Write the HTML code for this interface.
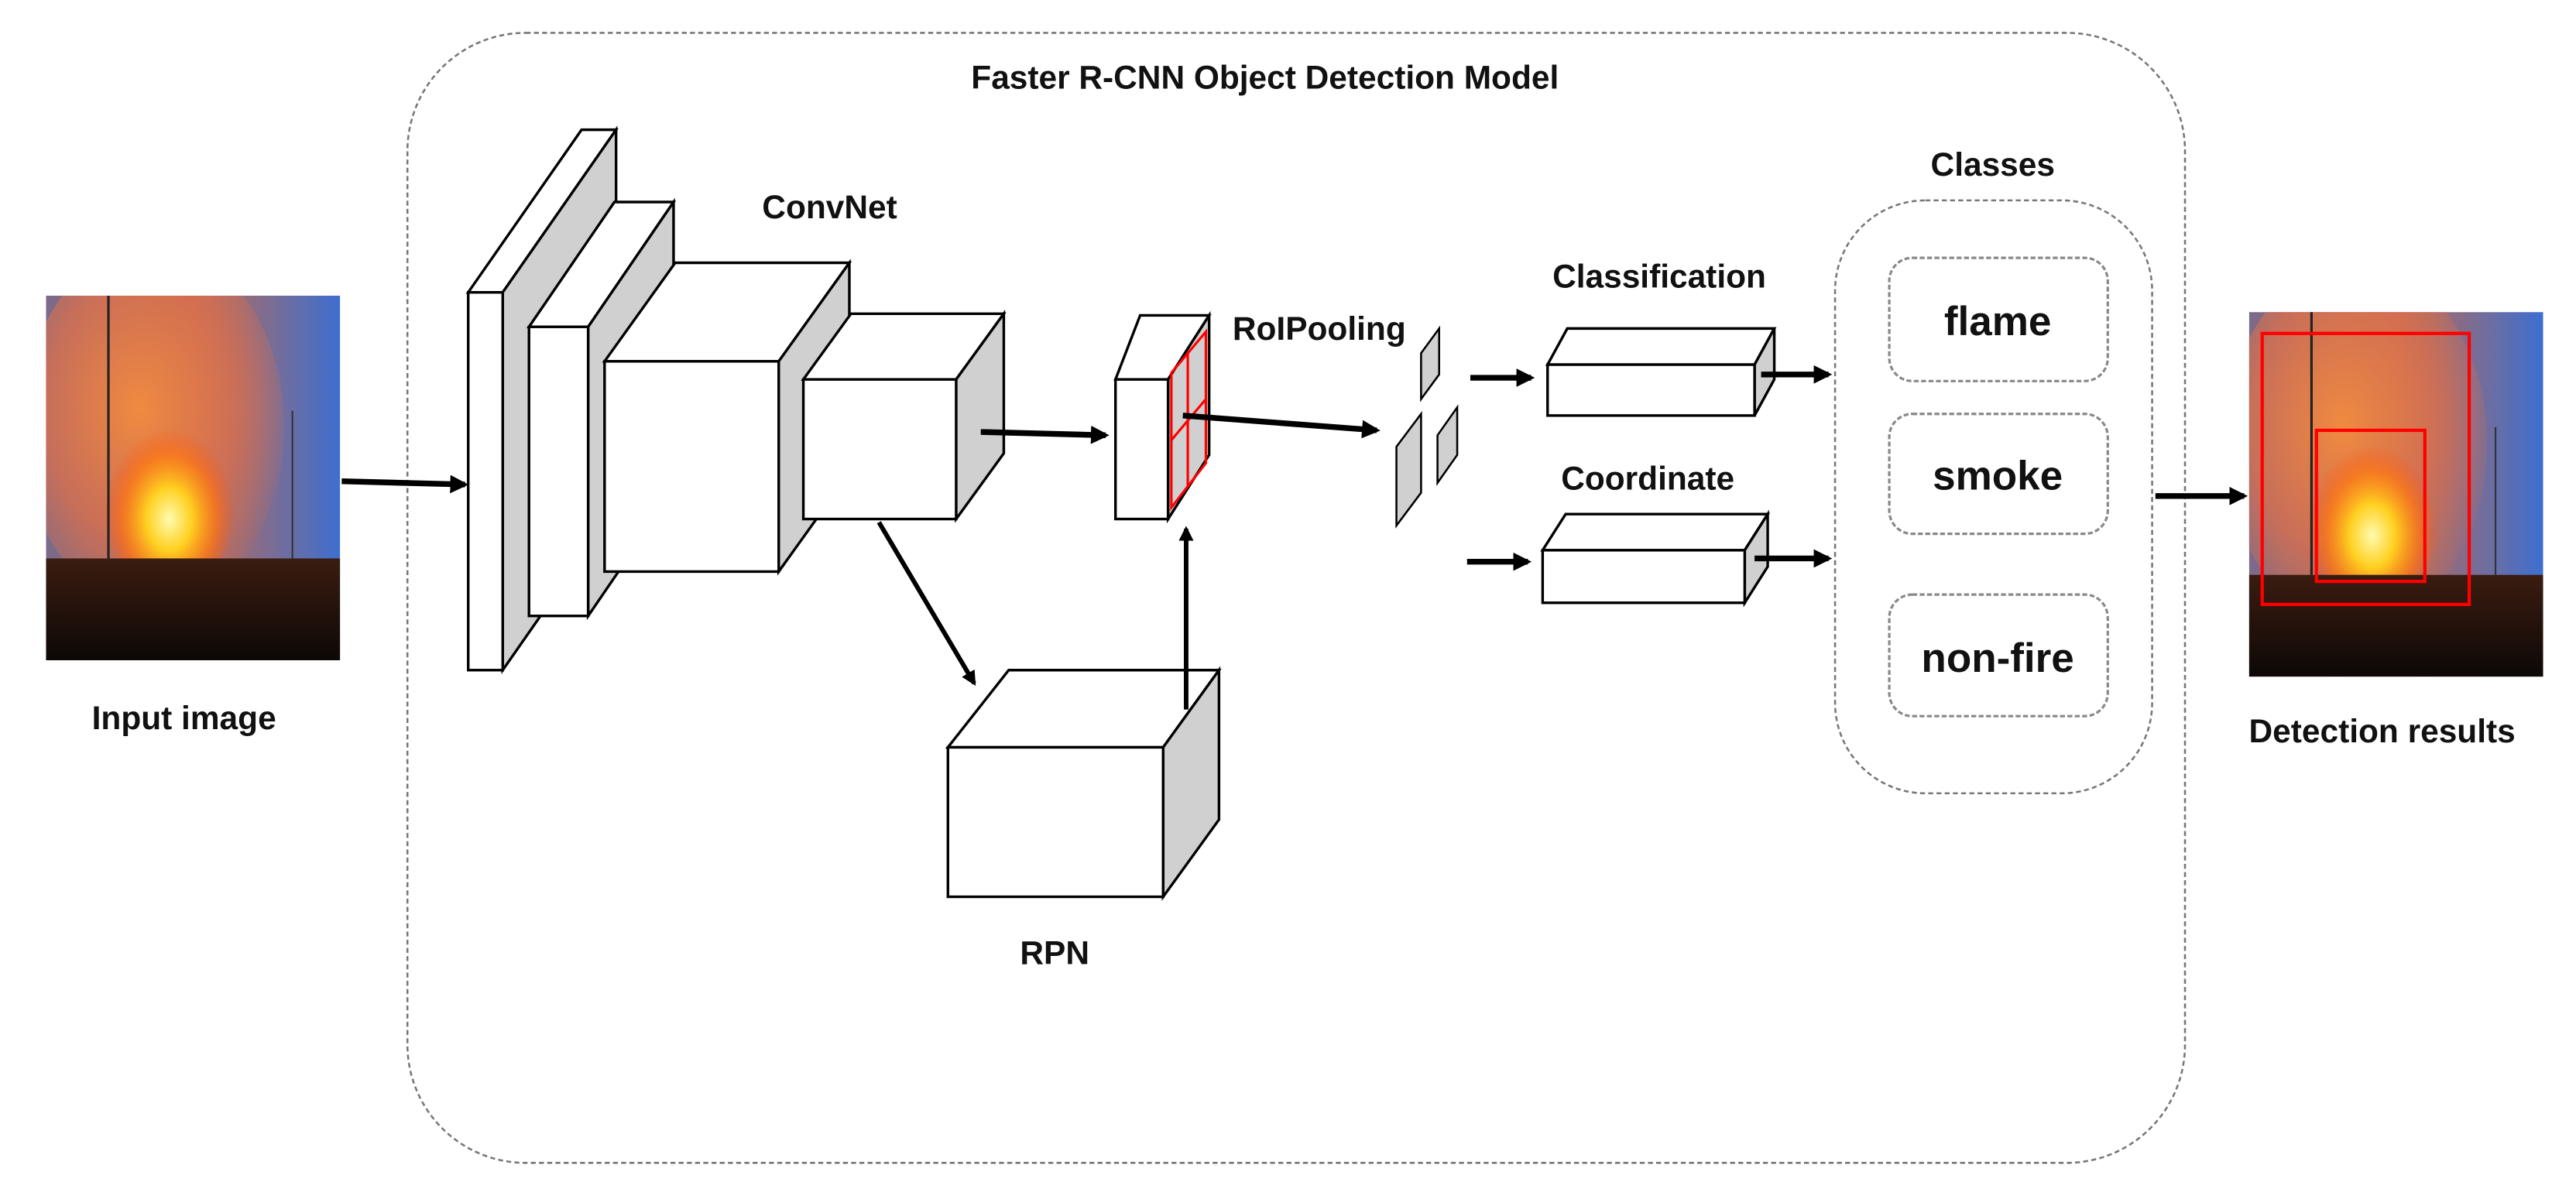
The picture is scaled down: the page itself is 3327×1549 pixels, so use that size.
<!DOCTYPE html>
<html><head><meta charset="utf-8"><style>
html,body{margin:0;padding:0;background:#fff;}
svg{display:block;}
text{font-family:"Liberation Sans Narrow","Liberation Sans",sans-serif;font-weight:bold;fill:#111;}
</style></head><body>
<svg width="3327" height="1549" viewBox="0 0 1568 730" preserveAspectRatio="none" xmlns="http://www.w3.org/2000/svg">
<defs>
<marker id="ah" viewBox="0 0 10 10" refX="8" refY="5" markerWidth="3.2" markerHeight="3.2" orient="auto"><path d="M0,0 L10,5 L0,10 z" fill="#000"/></marker>
<linearGradient id="sky" x1="0" y1="0" x2="1" y2="0"><stop offset="0" stop-color="#7a6a8a"/><stop offset="0.5" stop-color="#c06a50"/><stop offset="1" stop-color="#3d6fd0"/></linearGradient>
<radialGradient id="smoke" cx="0.45" cy="0.45" r="0.6"><stop offset="0" stop-color="#f08a40"/><stop offset="0.6" stop-color="#d87050" stop-opacity="0.8"/><stop offset="1" stop-color="#d87050" stop-opacity="0"/></radialGradient>
<radialGradient id="flame" cx="0.5" cy="0.6" r="0.5"><stop offset="0" stop-color="#fffbb0"/><stop offset="0.35" stop-color="#ffd020"/><stop offset="0.7" stop-color="#ff7a10" stop-opacity="0.7"/><stop offset="1" stop-color="#ff5010" stop-opacity="0"/></radialGradient>
<linearGradient id="ground" x1="0" y1="0" x2="0" y2="1"><stop offset="0" stop-color="#3a1c10"/><stop offset="1" stop-color="#0d0806"/></linearGradient>
<clipPath id="ic"><rect x="0" y="0" width="179" height="222"/></clipPath>
<g id="fire" clip-path="url(#ic)">
<rect x="0" y="0" width="179" height="222" fill="url(#sky)"/>
<ellipse cx="65" cy="80" rx="80" ry="110" fill="url(#smoke)"/>
<ellipse cx="75" cy="125" rx="40" ry="55" fill="url(#flame)"/>
<rect x="0" y="160" width="179" height="62" fill="url(#ground)"/>
<line x1="38" y1="0" x2="38" y2="160" stroke="#222" stroke-width="1.5"/>
<line x1="150" y1="70" x2="150" y2="160" stroke="#333" stroke-width="1"/>
</g>
</defs>

<rect x="248" y="20" width="1082" height="688" rx="72" ry="72" fill="none" stroke="#777" stroke-width="1.2" stroke-dasharray="3,2"/>
<text x="770" y="54" font-size="20" text-anchor="middle">Faster R-CNN Object Detection Model</text>

<use href="#fire" x="28" y="180"/>
<text x="112" y="444" font-size="20" text-anchor="middle">Input image</text>
<line x1="208" y1="293" x2="283" y2="295" stroke="#000" stroke-width="3.5" marker-end="url(#ah)"/>

<g stroke="#000" stroke-width="1.6" stroke-linejoin="miter">
<polygon points="285,178 354,79 375,79 306,178" fill="#fff"/>
<polygon points="306,178 375,79 375,309 306,408" fill="#d0d0d0"/>
<rect x="285" y="178" width="21" height="230" fill="#fff"/>
<polygon points="322,199 374,123 410,123 358,199" fill="#fff"/>
<polygon points="358,199 410,123 410,299 358,375" fill="#d0d0d0"/>
<rect x="322" y="199" width="36" height="176" fill="#fff"/>
<polygon points="368,220 411,160 517,160 474,220" fill="#fff"/>
<polygon points="474,220 517,160 517,288 474,348" fill="#d0d0d0"/>
<rect x="368" y="220" width="106" height="128" fill="#fff"/>
<polygon points="489,231 518,191 611,191 582,231" fill="#fff"/>
<polygon points="582,231 611,191 611,276 582,316" fill="#d0d0d0"/>
<rect x="489" y="231" width="93" height="85" fill="#fff"/>
<polygon points="679,231 694,192 736,192 711,231" fill="#fff"/>
<polygon points="711,231 736,192 736,277 711,316" fill="#d0d0d0"/>
<rect x="679" y="231" width="32" height="85" fill="#fff"/>
<polygon points="577,455 614,408 742,408 708,455" fill="#fff"/>
<polygon points="708,455 742,408 742,499 708,546" fill="#d0d0d0"/>
<rect x="577" y="455" width="131" height="91" fill="#fff"/>
<polygon points="865,215 876,200 876,228 865,243" fill="#d0d0d0" stroke-width="1.2"/>
<polygon points="850,272 865,252 865,300 850,320" fill="#d0d0d0" stroke-width="1.2"/>
<polygon points="875,265 887,248 887,277 875,294" fill="#d0d0d0" stroke-width="1.2"/>
<polygon points="942,222 954,200 1080,200 1068,222" fill="#fff"/>
<polygon points="1068,222 1080,200 1080,231 1068,253" fill="#d0d0d0"/>
<rect x="942" y="222" width="126" height="31" fill="#fff"/>
<polygon points="939,335 953,313 1076,313 1062,335" fill="#fff"/>
<polygon points="1062,335 1076,313 1076,345 1062,367" fill="#d0d0d0"/>
<rect x="939" y="335" width="123" height="32" fill="#fff"/>
</g>
<g stroke="#f00" stroke-width="1.5" fill="none">
<polygon points="713,227 734,202 734,282 713,309"/>
<line x1="723" y1="215" x2="723" y2="296"/>
<line x1="713" y1="268" x2="734" y2="243"/>
</g>

<g stroke="#000" stroke-width="3.5" fill="none">
<line x1="597" y1="263" x2="673" y2="265" marker-end="url(#ah)"/>
<line x1="720" y1="253" x2="838" y2="262" marker-end="url(#ah)"/>
<line x1="535" y1="318" x2="593" y2="416" stroke-width="2.8" marker-end="url(#ah)"/>
<line x1="722" y1="432" x2="722" y2="322" stroke-width="2.8" marker-end="url(#ah)"/>
<line x1="895" y1="230" x2="932" y2="230" marker-end="url(#ah)"/>
<line x1="1072" y1="228" x2="1113" y2="228" marker-end="url(#ah)"/>
<line x1="893" y1="342" x2="930" y2="342" marker-end="url(#ah)"/>
<line x1="1068" y1="340" x2="1113" y2="340" marker-end="url(#ah)"/>
<line x1="1312" y1="302" x2="1366" y2="302" marker-end="url(#ah)"/>
</g>

<text x="505" y="133" font-size="20" text-anchor="middle">ConvNet</text>
<text x="803" y="207" font-size="20" text-anchor="middle">RoIPooling</text>
<text x="642" y="587" font-size="20" text-anchor="middle">RPN</text>
<text x="1010" y="175" font-size="20" text-anchor="middle">Classification</text>
<text x="1003" y="298" font-size="20" text-anchor="middle">Coordinate</text>
<text x="1213" y="107" font-size="20" text-anchor="middle">Classes</text>

<rect x="1117" y="122" width="193" height="361" rx="55" ry="55" fill="none" stroke="#777" stroke-width="1.2" stroke-dasharray="3,2"/>
<g fill="none" stroke="#888" stroke-width="1.5" stroke-dasharray="3,1.5">
<rect x="1150" y="157" width="133" height="75" rx="14"/>
<rect x="1150" y="252" width="133" height="73" rx="14"/>
<rect x="1150" y="362" width="133" height="74" rx="14"/>
</g>
<text x="1216" y="204" font-size="25" text-anchor="middle">flame</text>
<text x="1216" y="298" font-size="25" text-anchor="middle">smoke</text>
<text x="1216" y="409" font-size="25" text-anchor="middle">non-fire</text>

<use href="#fire" x="1369" y="190"/>
<rect x="1377" y="203" width="126" height="165" fill="none" stroke="#f00" stroke-width="2"/>
<rect x="1410" y="262" width="66" height="92" fill="none" stroke="#f00" stroke-width="2"/>
<text x="1450" y="452" font-size="20" text-anchor="middle">Detection results</text>
</svg>
</body></html>
